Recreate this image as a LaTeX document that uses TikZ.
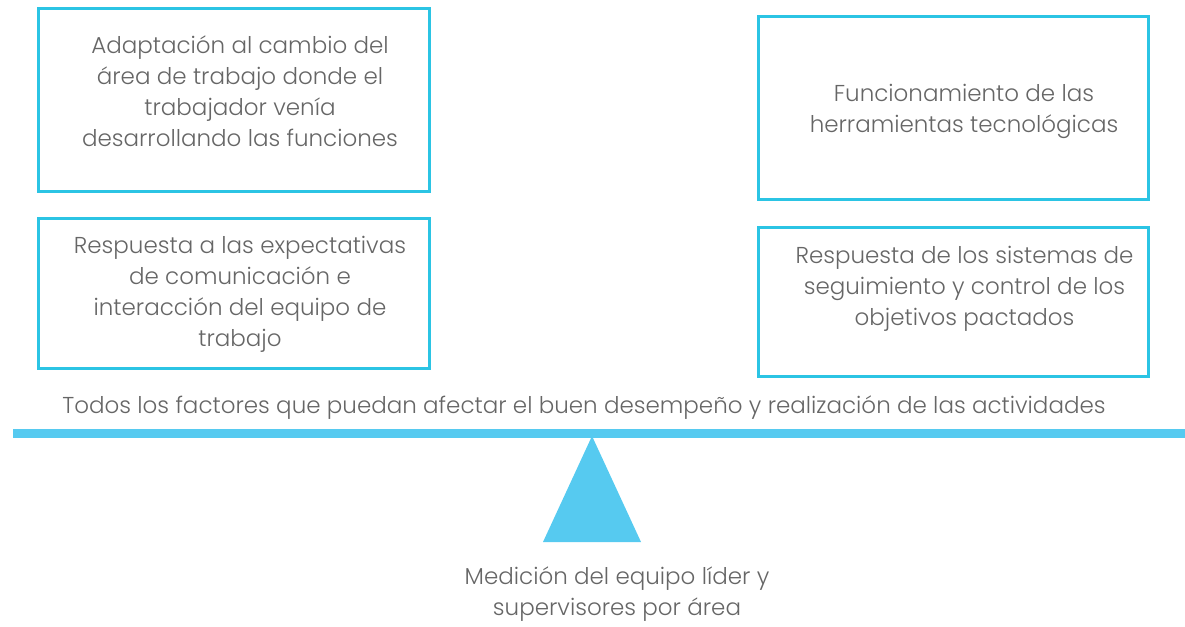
\documentclass[tikz,border=0pt]{standalone}
\usepackage{fontspec}
\setmainfont{Poppins}[UprightFont=* Light]
\definecolor{boxcyan}{HTML}{2BC4E4}
\definecolor{barcyan}{HTML}{56CAF0}
\definecolor{txtgray}{HTML}{666666}
\begin{document}
\begin{tikzpicture}[x=1pt,y=-1pt,
  frame/.style={draw=boxcyan,line width=3pt,inner sep=0pt,anchor=north west},
  lbl/.style={text=txtgray,font=\fontsize{23}{31}\selectfont,align=center,inner sep=0pt}]
\useasboundingbox (0,0) rectangle (1185,626);
% boxes
\node[frame,minimum width=391pt,minimum height=183pt] (b1) at (37,7) {};
\node[frame,minimum width=391pt,minimum height=150pt] (b2) at (37,217) {};
\node[frame,minimum width=390pt,minimum height=183pt] (b3) at (757,15) {};
\node[frame,minimum width=390pt,minimum height=149pt] (b4) at (757,226) {};
% box texts
\node[lbl] (t1) at (240,91) {Adaptación al cambio del\\área de trabajo donde el\\trabajador venía\\desarrollando las funciones};
\node[lbl] (t2) at (240,294.5) {Respuesta a las expectativas\\de comunicación e\\interacción del equipo de\\trabajo};
\node[lbl] (t3) at (964,111.5) {Funcionamiento de las\\herramientas tecnológicas};
\node[lbl] (t4) at (964.5,288.5) {Respuesta de los sistemas de\\seguimiento y control de los\\objetivos pactados};
% balance
\node[lbl] (top) at (584,408) {Todos los factores que puedan afectar el buen desempeño y realización de las actividades};
\coordinate (barL) at (13,433.5);
\coordinate (barR) at (1185,433.5);
\draw[barcyan,line width=9pt] (barL) -- (barR);
\coordinate (apex) at (592,436);
\coordinate (baseL) at (543,542);
\coordinate (baseR) at (641,542);
\fill[barcyan] (apex) -- (baseR) -- (baseL) -- cycle;
\node[lbl] (bottom) at (617,594) {Medición del equipo líder y\\supervisores por área};
\end{tikzpicture}
\end{document}
